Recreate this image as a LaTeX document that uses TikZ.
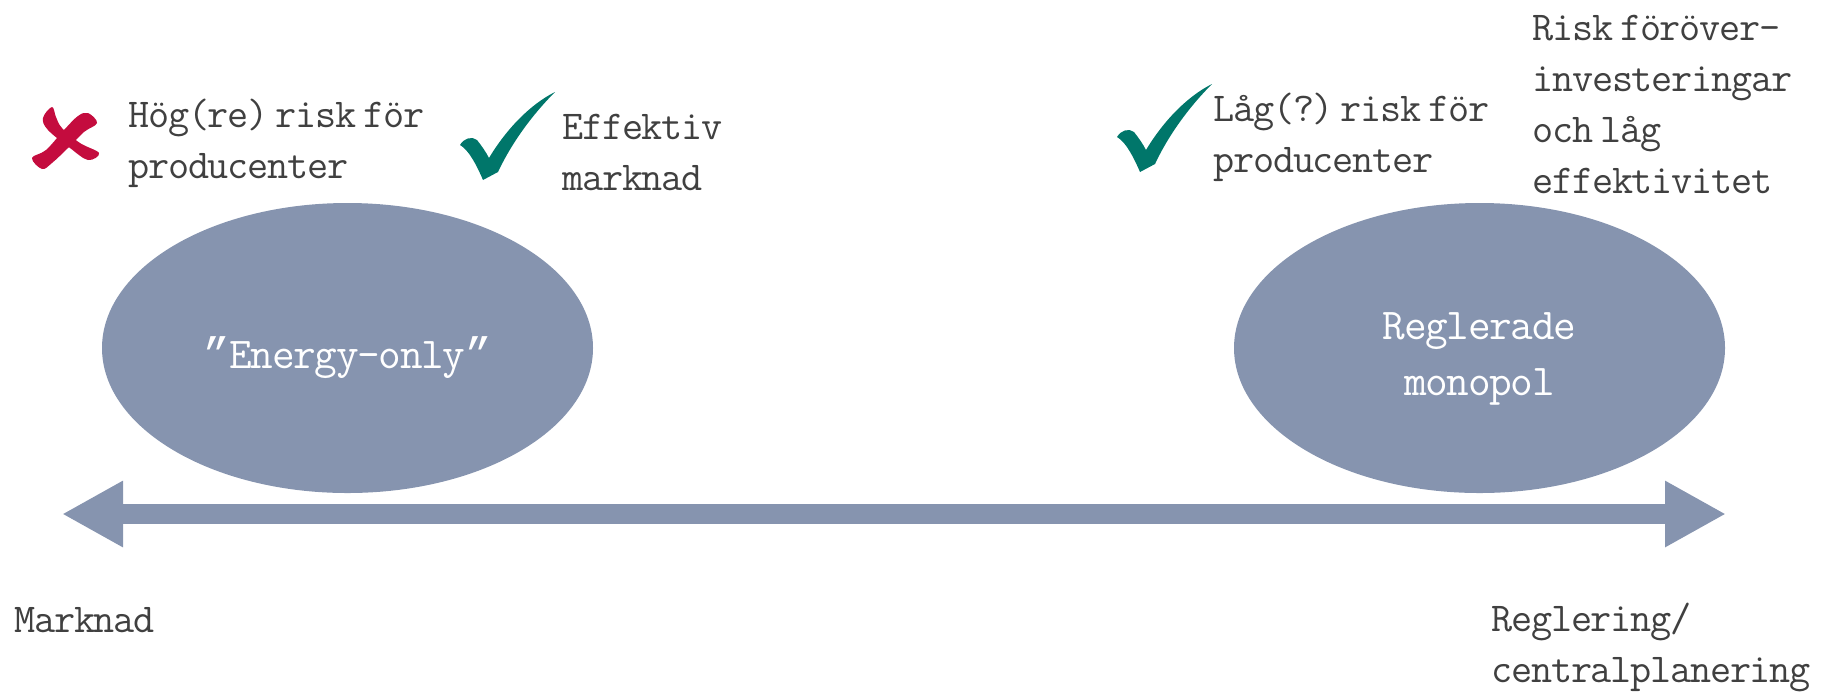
\documentclass[tikz,border=0pt]{standalone}
\usepackage{fontspec}
\usepackage{xcolor}
\usepackage{tikz}
\usetikzlibrary{arrows.meta,positioning,shapes.geometric}
\setmonofont[LetterSpace=-3,WordSpace=0.35]{Latin Modern Mono}
\newfontfamily\quotefont{Liberation Mono}
\newcommand{\pptquote}{{\quotefont ”}}
\definecolor{slate}{RGB}{134,148,175}
\definecolor{inktext}{RGB}{64,64,64}
\definecolor{tealok}{RGB}{0,118,106}
\definecolor{redno}{RGB}{196,12,62}

\begin{document}
\begin{tikzpicture}[x=0.5pt, y=-0.5pt,
  lbl/.style={font=\ttfamily\fontsize{20.5}{25.5}\selectfont, text=inktext, inner sep=0pt, align=left, anchor=base west},
  blob/.style={ellipse, fill=slate, minimum width=245.5pt, minimum height=145pt, inner sep=0pt,
    font=\ttfamily\fontsize{22}{28}\selectfont, text=white, align=center},
  axis/.style={slate, line width=10pt, {Triangle[length=30.5pt,width=31pt]}-{Triangle[length=30.5pt,width=31pt]}},
  pics/okmark/.style={code={
    \fill[tealok] (0,0) .. controls (-6,-14) and (-14,-30) .. (-23,-35)
      .. controls (-19,-42) and (-11,-44) .. (-6,-40)
      .. controls (-2,-35) and (3,-28) .. (6,-22)
      .. controls (24,-52) and (48,-76) .. (72,-88)
      .. controls (52,-68) and (30,-40) .. (15,-8) -- cycle;
  }}
]
\useasboundingbox (0,0) rectangle (1834,697);
\node[blob, text height=24pt, text depth=4pt] (energy) at (347.5,348) {\pptquote Energy-only\pptquote};
\node[blob, text height=52pt, text depth=5pt] (monopol) at (1479.5,348) {Reglerade\\monopol};
\coordinate (mkt) at (62,514);
\coordinate (reg) at (1726,514);
\draw[axis] (mkt) -- (reg);
% risk / efficiency notes
\fill[redno] plot[smooth cycle, tension=0.6] coordinates {(52,107) (43,118) (48,130) (70,148) (88,160) (99,153) (80,143) (62,128) (56,117)};
\fill[redno] plot[smooth cycle, tension=0.6] coordinates {(97,123) (88,113) (78,116) (64,130) (46,150) (32,158) (42,169) (52,163) (68,148) (84,132)};
\node[lbl] (hogrisk) at (128,178) {Hög(re) risk för\\producenter};
\pic at (483,180) {okmark};
\node[lbl] (effmkt) at (562,190) {Effektiv\\marknad};
\pic at (1140,172) {okmark};
\node[lbl] (lagrisk) at (1213,172) {Låg(?) risk för\\producenter};
\node[lbl] (overinv) at (1532,193) {Risk föröver-\\investeringar\\och låg\\effektivitet};
% axis ends
\node[lbl] (marknad) at (14,632) {Marknad};
\node[lbl] (reglering) at (1491,682) {Reglering/\\centralplanering};
\end{tikzpicture}
\end{document}
